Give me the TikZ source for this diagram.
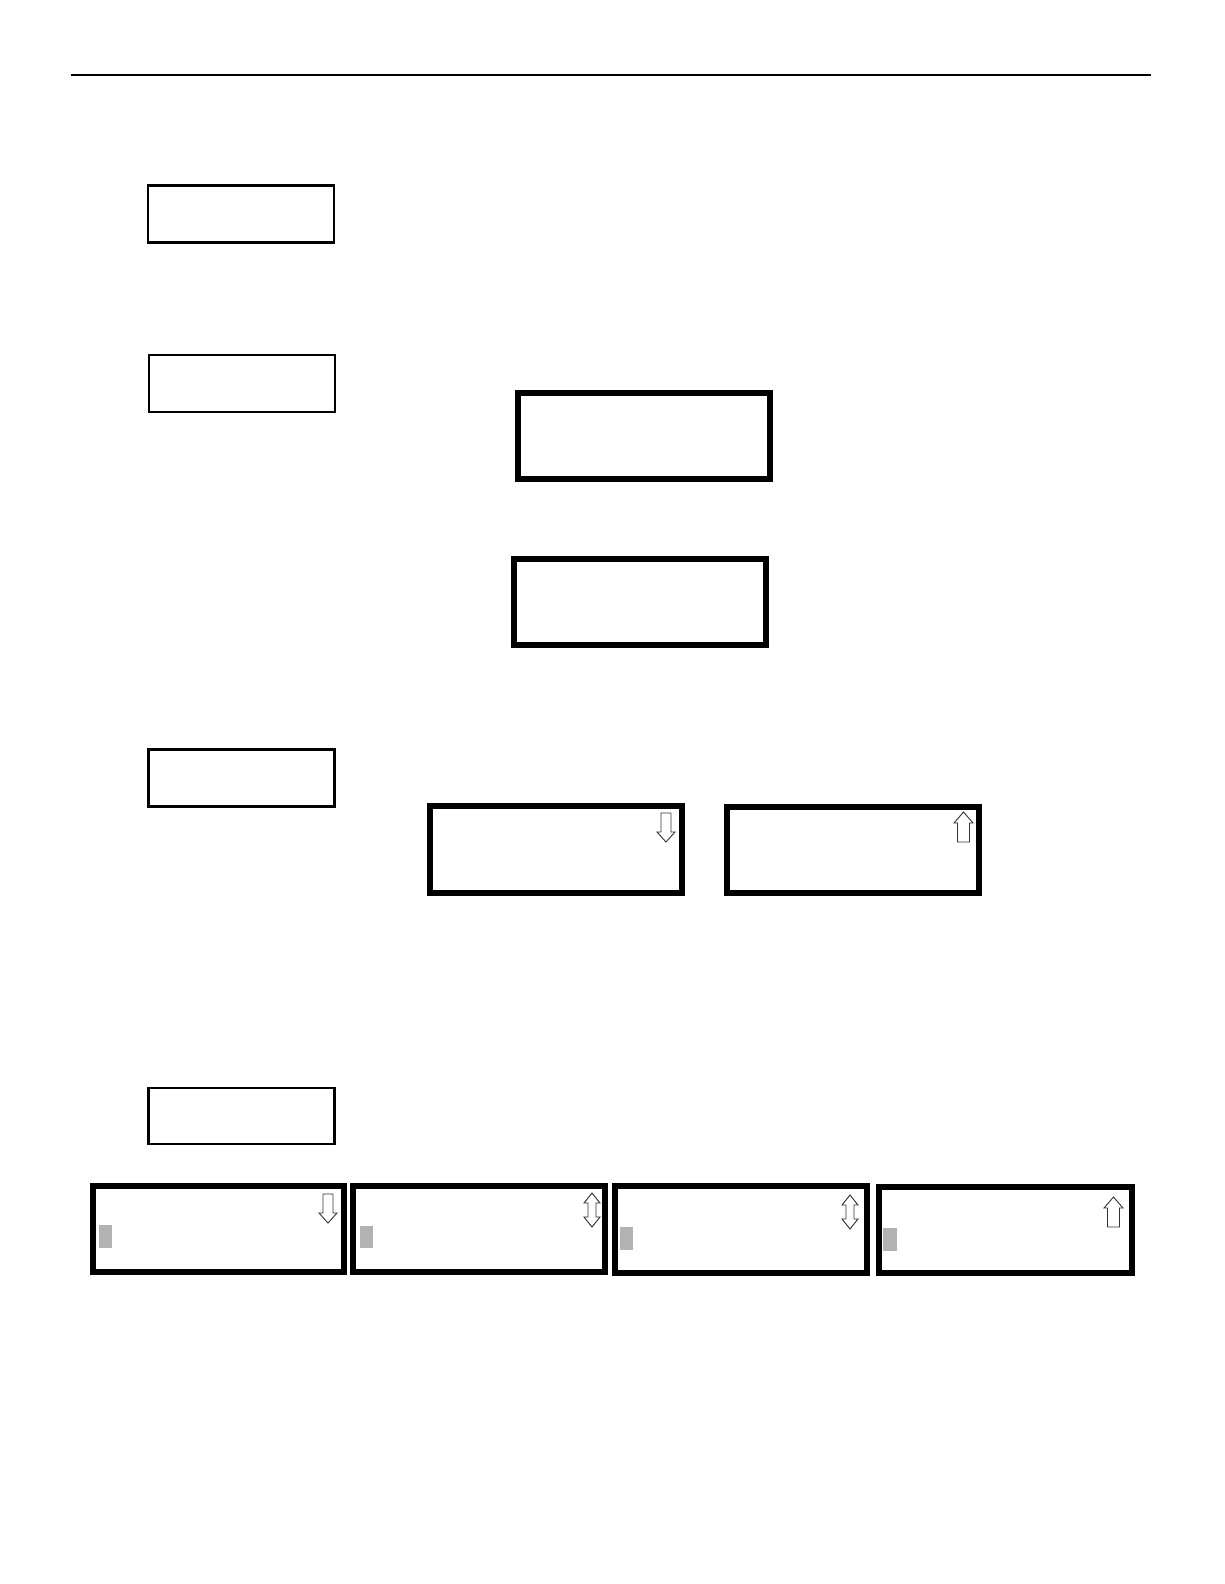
\documentclass[tikz,border=0pt]{standalone}
\begin{document}
\begin{tikzpicture}[x=1pt,y=-1pt,
  smallbox/.style={draw=black,line width=2.2pt,minimum width=186pt,minimum height=57pt,inner sep=0pt,fill=white},
  bigbox/.style={draw=black,line width=6pt,minimum width=252pt,minimum height=86pt,inner sep=0pt,fill=white},
  arrowline/.style={draw=black!80,line width=0.9pt,fill=white,line join=miter},
  shade/.style={fill=black!30,draw=none},
  downarr/.pic={\path[arrowline] (-5,0) -- (5,0) -- (5,19) -- (9,19) -- (0,29) -- (-9,19) -- (-5,19) -- cycle;},
  uparr/.pic={\path[arrowline] (-6,0) -- (6,0) -- (6,-19) -- (9.5,-19) -- (0,-30) -- (-9.5,-19) -- (-6,-19) -- cycle;},
  dblarr/.pic={\path[arrowline] (0,0) -- (8,10) -- (4,10) -- (4,24) -- (8,24) -- (0,34) -- (-8,24) -- (-4,24) -- (-4,10) -- (-8,10) -- cycle;}
]
\useasboundingbox (0,0) rectangle (1224,1584);
\coordinate (hl) at (71,75);
\coordinate (hr) at (1151,75);
\draw[line width=1.2pt] (hl) -- (hr);

% small boxes
\node[smallbox] (s1) at (241.3,214) {};
\node[smallbox] (s2) at (242.2,383.8) {};
\node[smallbox] (s3) at (241.5,778) {};
\node[smallbox,minimum height=55.7pt] (s4) at (241.5,1116.2) {};

% big boxes
\node[bigbox] (t1) at (644,436) {};
\node[bigbox] (t2) at (640,602) {};
\node[bigbox,minimum height=87pt] (m1) at (556,849.5) {};
\node[bigbox,minimum width=252pt,minimum height=86pt] (m2) at (853,850) {};
\node[bigbox,minimum width=251pt] (b1) at (218.5,1229) {};
\node[bigbox,minimum width=252pt] (b2) at (479,1229) {};
\node[bigbox,minimum width=252pt,minimum height=87pt] (b3) at (741,1229.5) {};
\node[bigbox,minimum width=253pt,minimum height=86pt] (b4) at (1005,1229.5) {};

% scroll arrows
\pic at (666,813) {downarr};
\pic at (963.5,842) {uparr};
\pic at (328,1194) {downarr};
\pic at (592,1193) {dblarr};
\pic at (850,1195) {dblarr};
\pic at (1113.5,1227) {uparr};

% shaded cursor blocks
\fill[shade] (99,1225) rectangle (112,1248);
\fill[shade] (360,1226) rectangle (373,1248);
\fill[shade] (620,1227) rectangle (633,1250);
\fill[shade] (883,1228) rectangle (897,1251);
\end{tikzpicture}
\end{document}
